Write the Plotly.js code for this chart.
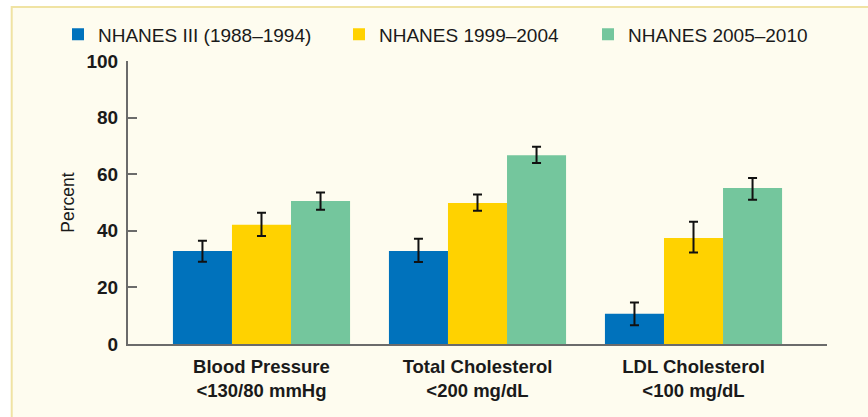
<!DOCTYPE html>
<html>
<head>
<meta charset="utf-8">
<script src="https://cdn.plot.ly/plotly-3.0.1.min.js"></script>
<style>
  html, body { margin: 0; padding: 0; background: #ffffff; }
  #chart { width: 868px; height: 417px; }
</style>
</head>
<body>
<div id="chart"></div>
<script>
// ---- data ----
const categories = [
  "<b>Blood Pressure</b><br><b>&lt;130/80 mmHg</b>",
  "<b>Total Cholesterol</b><br><b>&lt;200 mg/dL</b>",
  "<b>LDL Cholesterol</b><br><b>&lt;100 mg/dL</b>"
];
const seriesNames = ["NHANES III (1988–1994)", "NHANES 1999–2004", "NHANES 2005–2010"];
const nhanes3 = [32.9, 32.9, 10.7];
const nhanes3Upper = [36.5, 37.2, 14.7];
const nhanes3Lower = [29.1, 29.0, 6.6];
const nhanes9904 = [42.1, 49.8, 37.5];
const nhanes9904Upper = [46.4, 52.8, 43.2];
const nhanes9904Lower = [38.2, 47.1, 32.3];
const nhanes0510 = [50.5, 66.7, 55.1];
const nhanes0510Upper = [53.5, 69.7, 58.7];
const nhanes0510Lower = [47.4, 64.0, 51.0];
const yTicks = [0, 20, 40, 60, 80, 100];

const colors = ["#0072bc", "#ffd200", "#74c69d"];
const FONT = "'Liberation Sans', Arial, sans-serif";

function errs(vals, up, lo) {
  return {
    type: "data", symmetric: false,
    array: vals.map((v, i) => +(up[i] - v).toFixed(2)),
    arrayminus: vals.map((v, i) => +(v - lo[i]).toFixed(2)),
    color: "#111111", thickness: 2, width: 4.5
  };
}
const xIdx = categories.map((c, i) => i);
const series = [
  [nhanes3, nhanes3Upper, nhanes3Lower],
  [nhanes9904, nhanes9904Upper, nhanes9904Lower],
  [nhanes0510, nhanes0510Upper, nhanes0510Lower]
];
const legendIds = ["legend", "legend2", "legend3"];
const traces = series.map((s, k) => ({
  type: "bar",
  name: seriesNames[k],
  x: xIdx,
  y: s[0],
  marker: { color: colors[k], line: { width: 0 } },
  error_y: errs(s[0], s[1], s[2]),
  legend: legendIds[k],
  hoverinfo: "skip"
}));

// plot area: x 128..827, y 60.7..344.3
const L = 128, R = 827, T = 60.7, B = 344.3;
const pw = R - L, ph = B - T;
const px = v => (v - L) / pw;
const py = v => (B - v) / ph;

function legendAt(xpix) {
  return {
    x: px(xpix), xanchor: "left", y: py(34), yanchor: "middle",
    orientation: "h", bgcolor: "rgba(0,0,0,0)", borderwidth: 0,
    font: { family: FONT, size: 19, color: "#1a1a1a" }
  };
}

const layout = {
  width: 868, height: 417,
  margin: { l: L, r: 868 - R, t: T, b: 417 - B },
  paper_bgcolor: "#ffffff",
  plot_bgcolor: "rgba(0,0,0,0)",
  barmode: "group",
  bargap: 0.18,
  bargroupgap: 0,
  showlegend: true,
  legend: legendAt(58),
  legend2: legendAt(339),
  legend3: legendAt(588),
  xaxis: {
    range: [-0.618, 2.618],
    tickmode: "array", tickvals: xIdx, ticktext: categories,
    showgrid: false, zeroline: false,
    showline: true, linecolor: "#6b6b6b", linewidth: 2,
    ticks: "", ticklabelstandoff: 5,
    tickfont: { family: FONT, size: 18.5, color: "#1a1a1a" },
    fixedrange: true
  },
  yaxis: {
    range: [0, 100],
    tickmode: "array", tickvals: yTicks, ticktext: yTicks.map(v => "<b>" + v + "</b>"),
    showgrid: false, zeroline: false,
    showline: true, linecolor: "#6b6b6b", linewidth: 2,
    ticks: "inside", ticklen: 9, tickwidth: 2, tickcolor: "#6b6b6b",
    ticklabelstandoff: 4,
    tickfont: { family: FONT, size: 19, color: "#1a1a1a" },
    title: { text: "Percent", standoff: 7, font: { family: FONT, size: 17.5, color: "#1a1a1a" } },
    fixedrange: true
  },
  shapes: [{
    type: "rect", xref: "paper", yref: "paper", layer: "below",
    x0: px(11.7), x1: px(880), y0: py(6.5), y1: py(430),
    fillcolor: "#fefcef", line: { color: "#f0e3a3", width: 2 }
  }]
};

Plotly.newPlot("chart", traces, layout, { displayModeBar: false, staticPlot: true });
</script>
</body>
</html>
